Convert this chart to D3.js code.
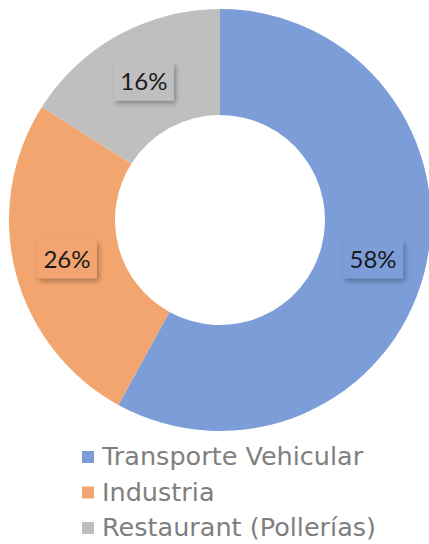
<!DOCTYPE html>
<html>
<head>
<meta charset="utf-8">
<script src="https://cdn.jsdelivr.net/npm/d3@7"></script>
<style>
  body { margin: 0; background: #fff; }
  svg { display: block; }
</style>
</head>
<body>
<div id="chart"></div>
<script>
// data
const categories = ["Transporte Vehicular", "Industria", "Restaurant (Pollerías)"];
const values = [58, 26, 16];
const colors = ["#7c9dd8", "#f2a56f", "#bfbfbf"];

const W = 429, H = 544;
const cx = 220, cy = 220;
const outerR = 211, innerR = 105;

const svg = d3.select("#chart")
  .append("svg")
  .attr("width", W)
  .attr("height", H);

// shadow for labels
const defs = svg.append("defs");
const f = defs.append("filter")
  .attr("id", "shadow")
  .attr("x", "-30%").attr("y", "-30%")
  .attr("width", "160%").attr("height", "160%");
f.append("feDropShadow")
  .attr("dx", 2).attr("dy", 3)
  .attr("stdDeviation", 2.5)
  .attr("flood-color", "#000")
  .attr("flood-opacity", 0.3);

const data = categories.map((c, i) => ({ name: c, value: values[i], color: colors[i] }));

const pie = d3.pie()
  .value(d => d.value)
  .sort(null);

const arc = d3.arc()
  .innerRadius(innerR)
  .outerRadius(outerR);

const g = svg.append("g")
  .attr("transform", `translate(${cx},${cy})`);

const arcs = pie(data);

g.selectAll("path")
  .data(arcs)
  .enter()
  .append("path")
  .attr("d", arc)
  .attr("fill", d => d.data.color);

// data labels
const labels = g.selectAll(".lbl")
  .data(arcs)
  .enter()
  .append("g")
  .attr("class", "lbl")
  .attr("transform", d => `translate(${arc.centroid(d)})`);

labels.append("rect")
  .attr("x", -30)
  .attr("y", -19)
  .attr("width", 60)
  .attr("height", 38)
  .attr("fill", d => d.data.color)
  .attr("filter", "url(#shadow)");

labels.append("text")
  .attr("text-anchor", "middle")
  .attr("dy", "0.36em")
  .style("font-family", "Lato, 'Noto Sans', sans-serif")
  .style("font-size", "24px")
  .style("fill", "#1a1a1a")
  .text(d => d.data.value + "%");

// legend
const legend = svg.append("g")
  .attr("transform", "translate(82, 465)");

const rows = legend.selectAll(".row")
  .data(data)
  .enter()
  .append("g")
  .attr("class", "row")
  .attr("transform", (d, i) => `translate(0, ${i * 35.5})`);

rows.append("rect")
  .attr("x", 0)
  .attr("y", -14)
  .attr("width", 12)
  .attr("height", 12)
  .attr("fill", d => d.color);

rows.append("text")
  .attr("x", 20)
  .attr("y", 0)
  .style("font-family", "'DejaVu Sans', sans-serif")
  .style("font-size", "25.5px")
  .style("fill", "#7f7f7f")
  .text(d => d.name);
</script>
</body>
</html>
